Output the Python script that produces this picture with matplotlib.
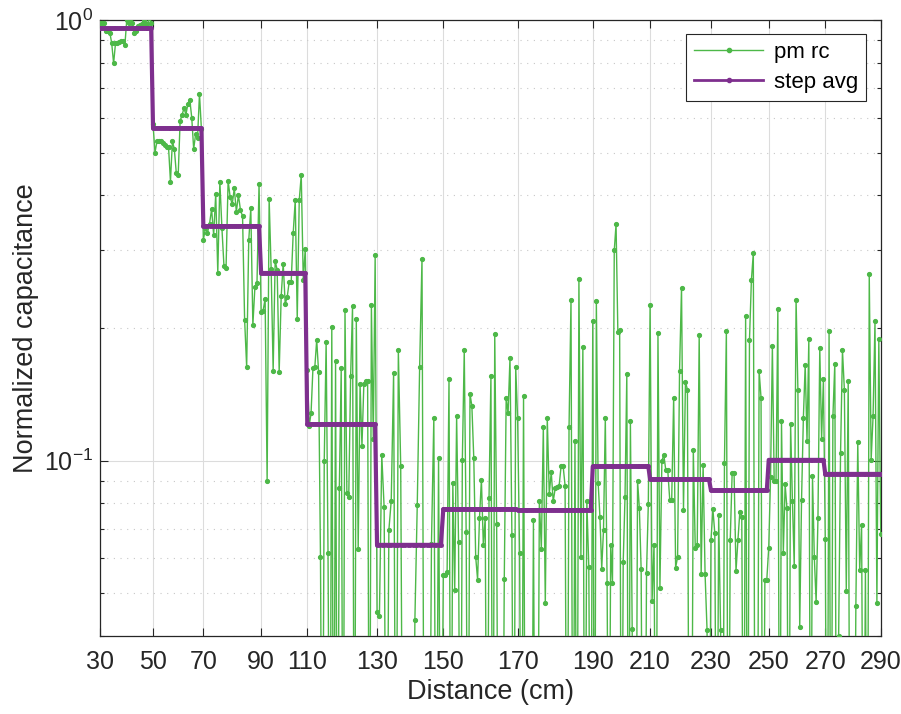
import numpy as np
import matplotlib
matplotlib.use("Agg")
import matplotlib.pyplot as plt
from matplotlib.lines import Line2D
from matplotlib.ticker import FixedLocator, NullFormatter

plt.rcParams['font.family'] = ['Liberation Sans', 'DejaVu Sans']
plt.rcParams['mathtext.fontset'] = 'custom'
plt.rcParams['mathtext.rm'] = 'Liberation Sans'
plt.rcParams['mathtext.it'] = 'Liberation Sans:italic'

# distance labels and the sample index where each one sits on the x axis
dist_labels = ['30', '50', '70', '90', '110', '130', '150', '170', '190',
               '210', '230', '250', '270', '290']
tick_index = [0, 25.4, 49.7, 77.6, 99.9, 133.6, 165.6, 201.5, 237.8,
              265.5, 294.9, 322.8, 350.1, 376.9]

# step average per 20 cm section
step_avg = [0.957, 0.568, 0.3405, 0.2666, 0.121, 0.0644, 0.0776, 0.0772,
            0.0970, 0.0907, 0.0856, 0.1004, 0.0933]

# pm rc readings, one list per section (0.01 = off the bottom of the axis)
seg_30 = [0.986, 0.983, 0.983, 0.946, 0.946, 0.936, 0.885, 0.797, 0.885, 0.885,
          0.890, 0.896, 0.894, 0.877, 1.0, 0.986, 1.009, 0.983, 0.933, 0.946,
          0.969, 0.975, 0.98, 1.0, 0.98, 0.98, 1.009, 0.986]
seg_50 = [0.58, 0.50, 0.53, 0.53, 0.53, 0.525, 0.52, 0.515, 0.515, 0.43,
          0.53, 0.51, 0.45, 0.445, 0.59, 0.61, 0.63, 0.61, 0.645, 0.66,
          0.60, 0.51, 0.55, 0.54, 0.68, 0.565]
seg_70 = [0.317, 0.337, 0.329, 0.345, 0.372, 0.325, 0.403, 0.267, 0.430, 0.337,
          0.276, 0.273, 0.432, 0.396, 0.382, 0.415, 0.367, 0.401, 0.370, 0.359,
          0.209, 0.163, 0.316, 0.374, 0.203, 0.248, 0.253, 0.424]
seg_90 = [0.217, 0.219, 0.233, 0.090, 0.393, 0.272, 0.160, 0.284, 0.271, 0.159,
          0.236, 0.280, 0.227, 0.235, 0.255, 0.255, 0.329, 0.390, 0.210, 0.39,
          0.445, 0.257, 0.303]
seg_110 = [0.161, 0.120, 0.128, 0.162, 0.163, 0.188, 0.159, 0.0604, 0.01, 0.100,
           0.186, 0.0617, 0.01, 0.201, 0.01, 0.168, 0.01, 0.0866, 0.162, 0.01,
           0.220, 0.0843, 0.0828, 0.156, 0.224, 0.01, 0.210, 0.0631, 0.149, 0.108,
           0.149, 0.152, 0.152, 0.01, 0.226, 0.112, 0.293]
seg_130 = [0.0453, 0.0443, 0.103, 0.0783, 0.01, 0.0696, 0.0812, 0.158, 0.01, 0.178,
           0.0973, 0.01, 0.01, 0.01, 0.01, 0.01, 0.0436, 0.0795, 0.163, 0.287,
           0.01, 0.01, 0.01, 0.0648, 0.125, 0.01, 0.1013, 0.01]
seg_150 = [0.0549, 0.0549, 0.0558, 0.153, 0.01, 0.0892, 0.0509, 0.126, 0.0655, 0.01,
           0.1006, 0.178, 0.0689, 0.01, 0.142, 0.133, 0.1013, 0.0605, 0.0537, 0.0742,
           0.0906, 0.0645, 0.0742, 0.01, 0.0823, 0.156, 0.01, 0.194, 0.0719, 0.01,
           0.01, 0.01, 0.0539, 0.139, 0.128, 0.171, 0.0678, 0.01, 0.163]
seg_170 = [0.125, 0.0617, 0.01, 0.140, 0.01, 0.01, 0.01, 0.01, 0.0732, 0.01,
           0.01, 0.0812, 0.0631, 0.119, 0.0475, 0.125, 0.0838, 0.0943, 0.0808, 0.0865,
           0.0871, 0.0878, 0.0973, 0.0974, 0.0878, 0.01, 0.119, 0.232, 0.01, 0.111,
           0.01, 0.259, 0.0606, 0.181, 0.01, 0.0812, 0.0574, 0.01]
seg_190 = [0.207, 0.01, 0.230, 0.0892, 0.0745, 0.0569, 0.0697, 0.125, 0.0529, 0.01,
           0.0645, 0.0529, 0.300, 0.344, 0.196, 0.198, 0.01, 0.0590, 0.0828, 0.157,
           0.01, 0.123, 0.0414, 0.01, 0.01, 0.0900, 0.0781, 0.0567, 0.01, 0.01,
           0.0556, 0.0797]
seg_210 = [0.226, 0.0480, 0.0645, 0.01, 0.195, 0.0515, 0.100, 0.103, 0.095, 0.095,
           0.0815, 0.0815, 0.139, 0.0572, 0.0604, 0.160, 0.247, 0.0771, 0.151, 0.145,
           0.01, 0.01, 0.106, 0.0633, 0.0642, 0.193, 0.0553, 0.0979, 0.0553, 0.0413,
           0.01]
seg_230 = [0.066, 0.0775, 0.0684, 0.01, 0.0752, 0.0413, 0.01, 0.0987, 0.197, 0.01,
           0.066, 0.0936, 0.0937, 0.0561, 0.0660, 0.0766, 0.0745, 0.01, 0.213, 0.01,
           0.188, 0.257, 0.296, 0.01, 0.01, 0.160, 0.139, 0.01, 0.0537, 0.0537]
seg_250 = [0.0635, 0.0916, 0.182, 0.0897, 0.0897, 0.221, 0.01, 0.123, 0.0618, 0.0884,
           0.0779, 0.01, 0.121, 0.0808, 0.0576, 0.232, 0.145, 0.0419, 0.0815, 0.125,
           0.165, 0.111, 0.189, 0.01, 0.0925, 0.0605, 0.0477, 0.0740, 0.180, 0.112,
           0.153]
seg_270 = [0.0664, 0.01, 0.197, 0.01, 0.126, 0.166, 0.01, 0.040, 0.104, 0.178,
           0.145, 0.0505, 0.152, 0.01, 0.01, 0.01, 0.0467, 0.110, 0.0566, 0.0714,
           0.01, 0.0566, 0.01, 0.265, 0.1006, 0.126, 0.207, 0.0475, 0.189, 0.0682]

segments = [seg_30, seg_50, seg_70, seg_90, seg_110, seg_130, seg_150,
            seg_170, seg_190, seg_210, seg_230, seg_250, seg_270]

# sample positions: each section's readings spread evenly over its index range
xs, pm, avg = [], [], []
for k, vals in enumerate(segments):
    a, b = tick_index[k], tick_index[k + 1]
    if k == len(segments) - 1:
        x = np.linspace(a, b, len(vals))
    else:
        x = a + (b - a) * np.arange(len(vals)) / len(vals)
    xs.extend(x)
    pm.extend(vals)
    avg.extend([step_avg[k]] * len(vals))

green = '#4DB848'
purple = '#7E2F8E'
txt = '#262626'

fig = plt.figure(figsize=(9.01, 7.14), dpi=100)
ax = fig.add_axes([0.1115, 0.1092, 0.866, 0.8628])

ax.plot(xs, pm, '-', color=green, lw=1.0, marker='.', ms=5.5, zorder=3)
ax.plot(xs, avg, '-', color=purple, lw=3.0, marker='.', ms=5, zorder=4)

ax.set_yscale('log')
ax.set_ylim(0.04, 1.0)
ax.set_xlim(tick_index[0], tick_index[-1])

ax.set_xticks(tick_index)
ax.set_xticklabels(dist_labels)
ax.yaxis.set_major_locator(FixedLocator([0.1, 1.0]))
ax.set_yticklabels([r'$10^{-1}$', r'$10^{0}$'])
ax.yaxis.set_minor_locator(FixedLocator([0.04, 0.05, 0.06, 0.07, 0.08, 0.09,
                                         0.2, 0.3, 0.4, 0.5, 0.6, 0.7, 0.8, 0.9]))
ax.yaxis.set_minor_formatter(NullFormatter())

ax.grid(True, which='major', color='#dcdcdc', lw=0.8, ls='-', zorder=0)
ax.grid(True, which='minor', axis='y', color='#c8c8c8', lw=0.8, ls=(0, (1, 5)), zorder=0)
ax.set_axisbelow(True)

ax.tick_params(which='both', direction='in', top=True, right=True, colors=txt,
               labelsize=18, width=0.8)
ax.tick_params(which='major', length=6)
ax.tick_params(which='minor', length=3)
ax.tick_params(axis='x', pad=10)
ax.tick_params(axis='y', pad=5)
for s in ax.spines.values():
    s.set_color(txt)
    s.set_linewidth(0.9)

ax.set_xlabel('Distance (cm)', fontsize=19.5, color=txt, labelpad=4)
ax.set_ylabel('Normalized capacitance', fontsize=19.5, color=txt, labelpad=4)

handles = [Line2D([], [], color=green, lw=1.0, marker='.', ms=6),
           Line2D([], [], color=purple, lw=2.0, marker='.', ms=6)]
leg = ax.legend(handles, ['pm rc', 'step avg'], loc='upper right', fontsize=16,
                frameon=True, fancybox=False, edgecolor=txt, framealpha=1,
                numpoints=1, handlelength=3.1, borderaxespad=0.65,
                handletextpad=0.5, labelspacing=0.4, borderpad=0.35)
leg.get_frame().set_linewidth(0.8)
for t in leg.get_texts():
    t.set_color('black')

fig.savefig('out.png', dpi=100)
